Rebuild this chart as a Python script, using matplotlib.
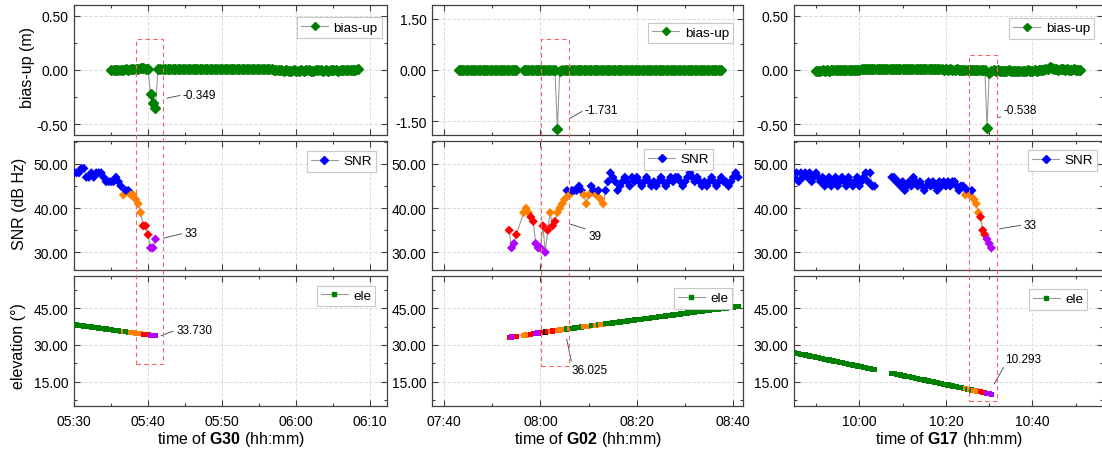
import numpy as np
import matplotlib
matplotlib.use('Agg')
import matplotlib.pyplot as plt
from matplotlib.lines import Line2D
from matplotlib.patches import Rectangle
from matplotlib.ticker import MultipleLocator, FuncFormatter, FormatStrFormatter

plt.rcParams['font.family'] = ['Liberation Sans', 'DejaVu Sans']
plt.rcParams['mathtext.fontset'] = 'custom'
plt.rcParams['mathtext.rm'] = 'Liberation Sans'
plt.rcParams['mathtext.bf'] = 'Liberation Sans:bold'
plt.rcParams['axes.unicode_minus'] = False

nan = np.nan

# ---------------- data (time in minutes of the day) ----------------
# G30, one epoch every 20 s
g30_bias_start, g30_obs_start, g30_step = 335.0, 330.0, 20 / 60
g30_bias_mm = [-3, -1, 0, 2, 1, 3, 5, 4, 6, 8, 10, 12, 14, 15, 13,
               10, -220, -300, -349, 8,
               10, 9, 11, 8, 10, 12, 9, 11, 10, 8, 9, 11, 12, 10, 9, 7, 10, 11, 9, 8, 10,
               12, 10, 9, 11, 13, 10, 8, 9, 11, 10, 12, 9, 8, 10, 11, 9, 7, 8, 10, 12,
               9, 11, 8, 6, 5, 3, 0, -2, -4, -5,
               -4, -6, -5, -3, -5, -6, -4, -5, -3, -4, -6, -5, -4, -2, -3, -5, -4, -6, -3, -2,
               -4, -5, -3, 0, -2, -1, 1, 3, 4, 6]
g30_snr = [48, 48, 48, 49, 49, 47, 47, 48, 47, 48, 48, 48, 47, 46, 46, 46, 46,
           47, 46, 45, 43, 44, 44, 43, 43, 42, 41, 39, 36, 36, 34, 31, 31, 33]
g30_ele = [38.30, 38.16, 38.02, 37.88, 37.75, 37.61, 37.47, 37.33, 37.19, 37.05,
           36.91, 36.78, 36.64, 36.50, 36.36, 36.22, 36.08, 35.95, 35.81, 35.67,
           35.53, 35.39, 35.26, 35.12, 34.98, 34.84, 34.70, 34.56, 34.42, 34.28,
           34.14, 34.01, 33.87, 33.730]

# G02, one epoch every 30 s
g02_bias_start, g02_obs_start, g02_step = 463.0, 473.5, 0.5
g02_bias_mm = [-2, 0, 1, -1, 2, 0, -1, 1, 3, 0, -2, 1, 0, 2, -1, 0, 1, -2, 0, 2, 1, -1, 0, 2, 1,
               nan, nan,
               0, 2, 1, -1, 3, 0, 2, 1, 0, -1, 2, 1, 3, 0,
               -1731, -40,
               5, 10, 12, 8, 11, 14, 9, 12, 10, 8, 11, 13, 9, 7, 10, 8, 6, 9, 7, 5,
               8, 6, 4, 7, 5, 3, 6, 4, 2, 5, 3, 1, 4, 2, 0, 3, 1, -1, 2, 0,
               -2, 1, 0, -1, 2, 0, -2, 1, -1, 0, 2, -1, 1, 0, -2, 1, 0, 2, -1, 1,
               0, 3, 1, -1, 2, 4, 3]
g02_snr = [35, 31, 32, 34, nan, nan, 39, 40, 39, 38,
           37, 32, 31, 31, 36, 30, 35, 39, 36, 37,
           39, 40, 41, 42, 44, 43, 44, 44, 44, 45,
           44, 43, 41, 43, 45, 44, 43, 44, 42, 41,
           44, 46, 48, 47, 46, 44, 45, 46, 47, 46,
           45, 47, 46, 47, 46, 45, 46, 47, 46, 45,
           46, 45, 46, 47, 46, 45, 46, 47, 46, 47,
           47, 46, 45, 46, 47, 48, 47, 46, 47, 46,
           45, 46, 45, 46, 47, 46, 45, 46, 47, 46,
           46, 45, 46, 47, 48, 47]
g02_ele = [33.10, 33.25, 33.39, 33.54, nan, nan, 33.98, 34.12, 34.27, 34.42,
           34.56, 34.71, 34.86, 35.00, 35.15, 35.30, 35.44, 35.59, 35.73, 35.88,
           36.025, 36.16, 36.29, 36.42, 36.55, 36.68, 36.81, 36.94, 37.07, 37.20,
           37.33, 37.46, 37.59, 37.72, 37.85, 37.98, 38.11, 38.24, 38.37, 38.50,
           38.63, 38.76, 38.89, 39.02, 39.15, 39.28, 39.41, 39.54, 39.67, 39.80,
           39.93, 40.06, 40.19, 40.32, 40.45, 40.58, 40.71, 40.84, 40.97, 41.10,
           41.23, 41.36, 41.49, 41.62, 41.75, 41.88, 42.01, 42.14, 42.27, 42.40,
           42.53, 42.66, 42.79, 42.92, 43.05, 43.18, 43.31, 43.44, 43.57, 43.70,
           43.83, 43.96, 44.09, 44.22, 44.35, 44.48, 44.61, 44.74, 44.87, 45.00,
           45.13, 45.26, 45.39, 45.52, 45.65, 45.78]

# G17, one epoch every 30 s
g17_bias_start, g17_obs_start, g17_step = 590.0, 585.0, 0.5
g17_bias_mm = [-6, -5, -7, -4, -6, -3, -5, -4, -2, -3, -1, -2, 0, -1, 1, 0, 2, 1, 3, 2,
               4, 6, 5, 7, 6, 8, 5, 7, 9, 6, 8, 7, 10, 8, 6, 9, 7, 8, 10, 9,
               7, 8, 6, 9, 11, 8, 7, 9, 6, 8, 10, 7, 9, 8, 6, 7, 5, 8,
               6, 4, 5, 3, 6, 4, 2, 5, 3, 4, 2, 3, 1, 4, 2, 3, 0, 2, 1, 0, -1,
               -538, -30,
               -5, -3, -6, -4, -7, -5, -8, -6, -4, -7, -9, -6, -8, -5, -7, -9, -6, -4, -7, -5,
               -3, -6, -4, -2,
               0, 5, 12, 25, 18, 9, 6, 4, 7, 5, 3, 6, 4, 2, 5, 3, 1, 3]
g17_snr = [47, 48, 46, 48, 47, 48, 47, 48, 46, 47,
           48, 47, 46, 47, 45, 46, 47, 45, 46, 47,
           45, 46, 47, 46, 45, 47, 46, 45, 46, 47,
           45, 46, 47, 48, 46, 48, 45, 45,
           nan, nan, nan, nan, nan, nan, nan,
           47, 47, 46, 46, 45, 46, 44, 45, 46, 45,
           47, 46, 45, 46, 45, 44, 45, 46, 45, 46,
           45, 44, 46, 45, 46, 45, 46, 45, 46, 46,
           45, 44, 45, 45, 43, 44, 43, 44, 42, 41,
           39, 38, 35, 34, 33, 32, 31]
g17_ele = [26.80, 26.61, 26.43, 26.24, 26.06, 25.87, 25.69, 25.50, 25.32, 25.13,
           24.95, 24.76, 24.57, 24.39, 24.20, 24.02, 23.83, 23.65, 23.46, 23.28,
           23.09, 22.90, 22.72, 22.53, 22.35, 22.16, 21.98, 21.79, 21.61, 21.42,
           21.24, 21.05, 20.86, 20.68, 20.49, 20.31, 20.12, 19.94,
           nan, nan, nan, nan, nan, nan, nan,
           18.45, 18.26, 18.08, 17.89, 17.71, 17.52, 17.34, 17.15, 16.97, 16.78,
           16.60, 16.41, 16.23, 16.04, 15.85, 15.67, 15.48, 15.30, 15.11, 14.93,
           14.74, 14.56, 14.37, 14.19, 14.00, 13.81, 13.63, 13.44, 13.26, 13.07,
           12.89, 12.70, 12.52, 12.33, 12.15, 11.96, 11.77, 11.59, 11.40, 11.22,
           11.03, 10.85, 10.66, 10.48, 10.293, 10.11, 9.92]

# ---------------- style / layout ----------------
GREEN, BLUE, ORANGE, RED, PURPLE = '#008000', '#0000ff', '#ff8000', '#ff0000', '#b000ff'
LINE = '#9a9a9a'
AX = '#404040'
W, H = 1102, 452

col_x = [(74, 313.3), (432, 311), (794, 309)]
row_y = [(6, 130), (142, 129), (277, 130)]

cols = [
    dict(name='G30', bias=g30_bias_mm, b0=g30_bias_start, o0=g30_obs_start, step=g30_step,
         snr=g30_snr, ele=g30_ele, xlim=(330, 372.3), major=10, minor=5,
         bias_lim=(-0.6, 0.6), bias_major=0.5,
         box=(338.4, 342.0, 0.29, 22.2),
         legend=[(5.6, 12.3), (11.6, 10), (12, 9.7)],
         notes=[(342.53, -0.260, 344.69, -0.230, 'center'),
                (342.07, 33.21, 344.91, 34.34, 'center'),
                (341.76, 33.80, 343.78, 36.13, 'center')]),
    dict(name='G02', bias=g02_bias_mm, b0=g02_bias_start, o0=g02_obs_start, step=g02_step,
         snr=g02_snr, ele=g02_ele, xlim=(457.5, 522.0), major=20, minor=10,
         bias_lim=(-1.9, 1.9), bias_major=1.5,
         box=(480.1, 485.85, 0.9, 21.3),
         legend=[(10, 17.6), (30, 8), (11, 12)],
         notes=[(485.97, -1.424, 489.22, -1.161, 'center'),
                (485.97, 36.45, 489.9, 35.1, 'top'),
                (485.43, 32.45, 486.5, 22.23, 'top')]),
    dict(name='G17', bias=g17_bias_mm, b0=g17_bias_start, o0=g17_obs_start, step=g17_step,
         snr=g17_snr, ele=g17_ele, xlim=(584.9, 656.3), major=20, minor=10,
         bias_lim=(-0.6, 0.6), bias_major=0.5,
         box=(625.4, 631.7, 0.136, 7.0),
         legend=[(9, 13), (6, 9), (16, 13)],
         notes=[(632.0, -0.438, 633.3, -0.429, 'bottom'),
                (632.4, 35.32, 637.9, 36.22, 'center'),
                (631.14, 14.06, 633.69, 21.95, 'bottom')]),
]


def snr_color(v):
    if v >= 44:
        return BLUE
    if v >= 39:
        return ORANGE
    if v >= 34:
        return RED
    return PURPLE


def ele_color(v):
    if v >= 44:
        return GREEN
    if v >= 39:
        return ORANGE
    if v >= 34:
        return RED
    if v > 30:
        return PURPLE
    return 'black'


def connect(t, v, max_gap=2.0):
    # join points over short gaps, break the line over long ones
    ok = np.isfinite(v)
    tt, vv = t[ok], v[ok]
    cut = np.where(np.diff(tt) > max_gap)[0] + 1
    return np.insert(tt, cut, nan), np.insert(vv, cut, nan)


def hhmm(v, pos):
    m = int(round(v))
    return f'{m // 60:02d}:{m % 60:02d}'


def style(ax, w, h, handle, label, off):
    ax.tick_params(which='both', direction='in', top=True, right=True,
                   colors=AX, labelcolor='black', labelsize=10, width=0.8)
    ax.tick_params(which='major', length=4.5)
    ax.tick_params(which='minor', length=2.5)
    ax.tick_params(axis='x', pad=5.5)
    ax.tick_params(axis='y', pad=4)
    for s in ax.spines.values():
        s.set_color(AX)
        s.set_linewidth(0.9)
    ax.grid(True, which='major', color='#d6d6d6', ls=(0, (4, 2)), lw=0.6)
    ax.set_axisbelow(True)
    leg = ax.legend([handle], [label], loc='upper right',
                    bbox_to_anchor=(1 - off[0] / w, 1 - off[1] / h), borderaxespad=0,
                    fancybox=False, edgecolor='#c8c8c8', framealpha=1, fontsize=9.7,
                    handlelength=2.0, handletextpad=0.4, borderpad=0.3)
    leg.get_frame().set_linewidth(0.8)


fig = plt.figure(figsize=(W / 100, H / 100), dpi=100)

for c, col in enumerate(cols):
    x0, w = col_x[c]
    axs = []
    for r in range(3):
        y0, h = row_y[r]
        axs.append(fig.add_axes([x0 / W, 1 - (y0 + h) / H, w / W, h / H]))
    ax_b, ax_s, ax_e = axs

    bias = np.array(col['bias'], float) / 1000
    tb = col['b0'] + col['step'] * np.arange(len(bias))
    snr = np.array(col['snr'], float)
    ele = np.array(col['ele'], float)
    to = col['o0'] + col['step'] * np.arange(len(snr))

    # bias-up
    ax_b.plot(tb, bias, color=LINE, lw=0.8, zorder=2)
    ax_b.plot(tb, bias, ls='none', marker='D', ms=5, color=GREEN, mec=GREEN, zorder=3)
    # SNR
    ax_s.plot(*connect(to, snr), color=LINE, lw=0.8, zorder=2)
    ok = np.isfinite(snr)
    ax_s.scatter(to[ok], snr[ok], c=[snr_color(v) for v in snr[ok]], marker='D', s=22,
                 linewidths=0, zorder=3)
    # elevation, coloured by SNR class
    ax_e.plot(*connect(to, ele), color=LINE, lw=0.8, zorder=2)
    ok = np.isfinite(ele)
    ax_e.scatter(to[ok], ele[ok], c=[ele_color(v) for v in snr[ok]], marker='s', s=14,
                 linewidths=0, zorder=3)

    handles = [Line2D([], [], color=LINE, lw=0.8, marker='D', ms=4.5, mfc=GREEN, mec=GREEN),
               Line2D([], [], color=LINE, lw=0.8, marker='D', ms=4.5, mfc=BLUE, mec=BLUE),
               Line2D([], [], color=LINE, lw=0.8, marker='s', ms=3.5, mfc=GREEN, mec=GREEN)]
    names = ['bias-up', 'SNR', 'ele']
    for r, ax in enumerate(axs):
        ax.set_xlim(col['xlim'])
        ax.xaxis.set_major_locator(MultipleLocator(col['major']))
        ax.xaxis.set_minor_locator(MultipleLocator(col['minor']))
        ax.xaxis.set_major_formatter(FuncFormatter(hhmm))
        ax.yaxis.set_major_formatter(FormatStrFormatter('%.2f'))
        style(ax, w, row_y[r][1], handles[r], names[r], col['legend'][r])
        if r < 2:
            ax.tick_params(axis='x', labelbottom=False)

    ax_b.set_ylim(col['bias_lim'])
    ax_b.yaxis.set_major_locator(MultipleLocator(col['bias_major']))
    ax_b.yaxis.set_minor_locator(MultipleLocator(col['bias_major'] / 2))
    ax_s.set_ylim(26, 55.2)
    ax_s.yaxis.set_major_locator(MultipleLocator(10))
    ax_s.yaxis.set_minor_locator(MultipleLocator(5))
    ax_e.set_ylim(5.06, 58.2)
    ax_e.yaxis.set_major_locator(MultipleLocator(15))
    ax_e.yaxis.set_minor_locator(MultipleLocator(7.5))

    ax_e.set_xlabel(r'time of $\mathbf{' + col['name'] + r'}$ (hh:mm)', fontsize=11.5, labelpad=1)
    if c == 0:
        ax_b.set_ylabel('bias-up (m)', fontsize=11.5)
        ax_s.set_ylabel('SNR (dB Hz)', fontsize=11.5)
        ax_e.set_ylabel('elevation (°)', fontsize=11.5)
        ax_b.yaxis.set_label_coords(-0.1246, 0.53)
        ax_s.yaxis.set_label_coords(-0.150, 0.52)
        ax_e.yaxis.set_label_coords(-0.152, 0.47)

    # values at the epoch of the bias spike
    i = int(np.nanargmin(bias))
    j = int(np.argmin(np.abs(to - tb[i])))
    texts = [f'{bias[i]:.3f}', f'{snr[j]:.0f}', f'{ele[j]:.3f}']
    for ax, txt, (xa, ya, xt, yt, va) in zip(axs, texts, col['notes']):
        rel = {'center': (0, 0.5), 'top': (0, 1), 'bottom': (0, 0)}[va]
        ax.annotate(txt, xy=(xa, ya), xytext=(xt, yt), ha='left', va=va, fontsize=8.5,
                    arrowprops=dict(arrowstyle='-', color='#404040', lw=0.6,
                                    shrinkA=0, shrinkB=0, relpos=rel), zorder=5)

    # red dashed box across the three panels
    bl, br, btop, bbot = col['box']
    p1 = fig.transFigure.inverted().transform(ax_b.transData.transform((bl, btop)))
    p2 = fig.transFigure.inverted().transform(ax_e.transData.transform((br, bbot)))
    fig.add_artist(Rectangle((p1[0], p2[1]), p2[0] - p1[0], p1[1] - p2[1],
                             transform=fig.transFigure, fill=False, ec='#ff6060',
                             lw=0.8, ls=(0, (4, 3)), zorder=10))

fig.savefig('out.png', dpi=100)
